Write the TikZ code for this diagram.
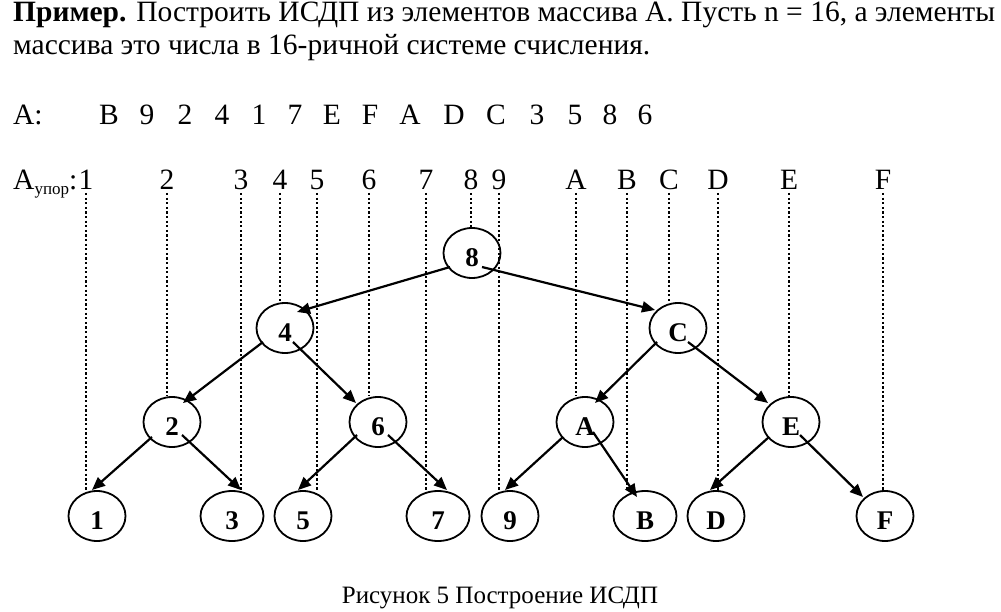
\documentclass[tikz,border=0pt]{standalone}
\usepackage{fontspec}
\setmainfont{Liberation Serif}
\usetikzlibrary{arrows.meta,shapes.geometric,calc}
\begin{document}
\begin{tikzpicture}[x=1pt,y=-1pt,
  txt/.style={inner sep=0pt,anchor=base,font=\fontsize{29.5}{33}\selectfont},
  txtl/.style={txt,anchor=base west},
  captxt/.style={inner sep=0pt,anchor=base,font=\fontsize{25}{29}\selectfont},
  nd/.style={ellipse,draw,line width=1.8pt,minimum width=57pt,minimum height=50pt,
    inner sep=0pt,text height=27pt,text depth=0pt,font=\fontsize{27}{27}\selectfont\bfseries},
  ndw/.style={nd,minimum width=63pt},
  dotline/.style={line width=2.3pt,dash pattern=on 2.3pt off 2.3pt},
  arr/.style={line width=2.2pt,-{Triangle[length=13pt,width=11pt]}}]
\useasboundingbox (0,0) rectangle (1001,612);

% text
\node[txtl] (t1) at (13,22) {\textbf{Пример.} Построить ИСДП из элементов массива А. Пусть n = 16, а элементы};
\node[txtl] (t2) at (13,55) {массива это числа в 16-ричной системе счисления.};
\node[txtl] (arow) at (13,125) {A:};
\foreach \v/\x [count=\i] in {B/109,9/147,2/185,4/222,1/259,7/295,E/332,F/370,A/410,D/454,C/496,3/537,5/575,8/610,6/645}
  \node[txt] (a\i) at (\x,125) {\v};
\node[txtl] (aupor) at (13,190) {A\raisebox{-5pt}{\fontsize{17}{17}\selectfont упор}:};
\foreach \n/\x in {1/86,2/167,3/241,4/280,5/317,6/369,7/426,8/471,9/499,A/576,B/627,C/669,D/718,E/789,F/883}
  \node[txt] (l\n) at (\x,190) {\n};

% tree nodes
\node[nd] (n8) at (472,253) {8};
\node[nd] (n4) at (285,328) {4};
\node[nd] (nC) at (678,328) {C};
\node[nd] (n2) at (172,422) {2};
\node[nd] (n6) at (378,422) {6};
\node[nd] (nA) at (585,422) {A};
\node[nd] (nE) at (791,422) {E};
\node[nd] (n1) at (97,516) {1};
\node[ndw] (n3) at (232,516) {3};
\node[nd] (n5) at (303,516) {5};
\node[ndw] (n7) at (438,516) {7};
\node[nd] (n9) at (510,516) {9};
\node[ndw] (nB) at (645,516) {B};
\node[nd] (nD) at (716,516) {D};
\node[nd] (nF) at (885,516) {F};

% dotted guide lines
\foreach \n in {1,2,3,4,5,6,7,8,9,A,B,C,D,E,F}
  \draw[dotline] ($(l\n.base)+(0,3)$) -- (l\n |- n\n.north);

% arrows
\draw[arr] ($(n8)+(-22,14)$) -- ($(n4)+(12,-16)$);
\draw[arr] ($(n8)+(10,14)$) -- ($(nC)+(-23,-18)$);
\draw[arr] ($(n4)+(-22,14)$) -- ($(n2)+(11,-19)$);
\draw[arr] ($(n4)+(8,14)$) -- ($(n6)+(-22,-19)$);
\draw[arr] ($(n2)+(-20,15)$) -- ($(n1)+(-5,-26)$);
\draw[arr] ($(n2)+(10,13)$) -- ($(n3)+(9,-26)$);
\draw[arr] ($(n6)+(-21,13)$) -- ($(n5)+(-5,-26)$);
\draw[arr] ($(n6)+(10,13)$) -- ($(n7)+(9,-26)$);
\draw[arr] ($(nC)+(-21,14)$) -- ($(nA)+(10,-19)$);
\draw[arr] ($(nC)+(10,14)$) -- ($(nE)+(-23,-19)$);
\draw[arr] ($(nA)+(-22,15)$) -- ($(n9)+(-5,-26)$);
\draw[arr] ($(nA)+(8,10)$) -- ($(nB)+(-8,-19)$);
\draw[arr] ($(nE)+(-22,15)$) -- ($(nD)+(-6,-26)$);
\draw[arr] ($(nE)+(9,13)$) -- ($(nF)+(-22,-19)$);

% caption
\node[captxt] (capt) at (500,603) {Рисунок 5 Построение ИСДП};
\end{tikzpicture}
\end{document}
